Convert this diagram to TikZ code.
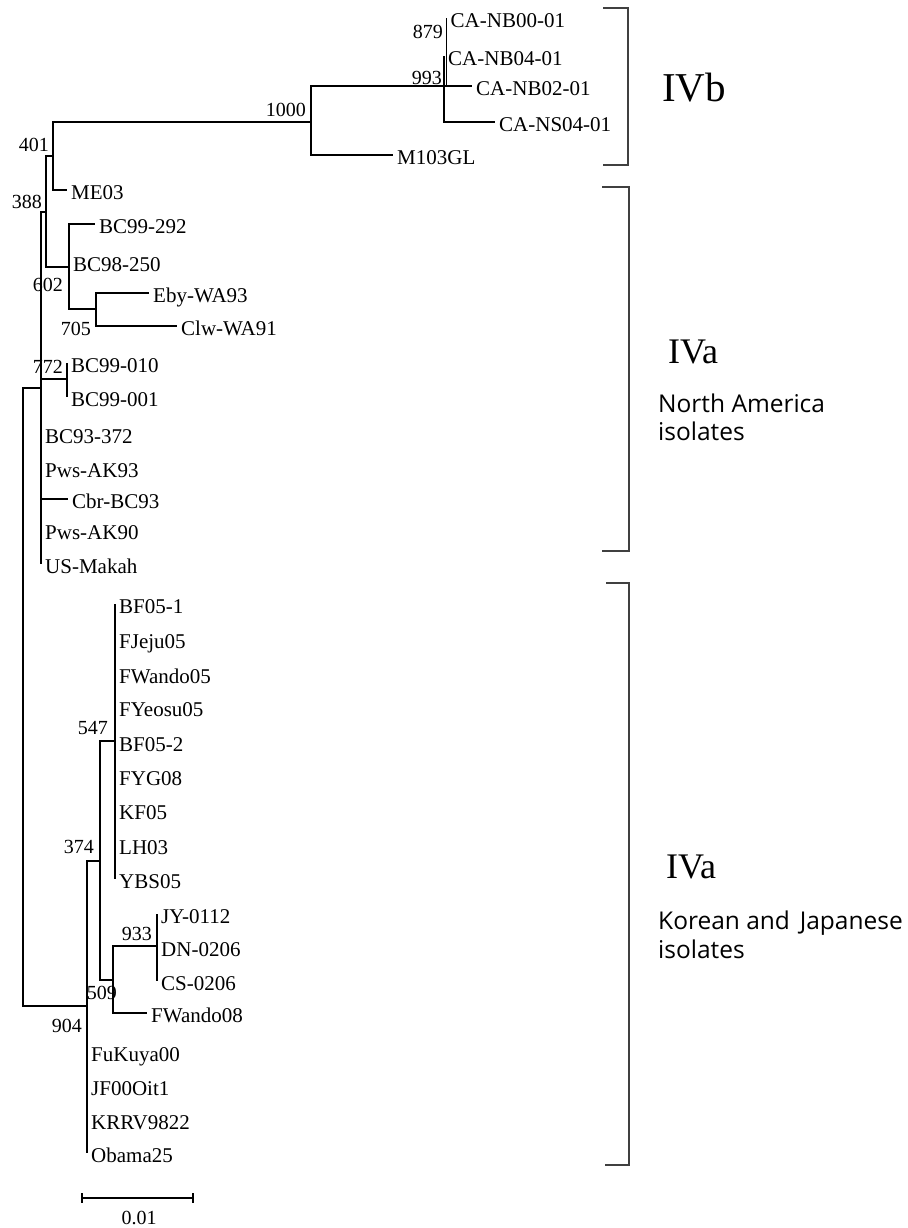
\documentclass[tikz,border=0pt]{standalone}
\usepackage{fontspec}
\setmainfont{Liberation Serif}
\newfontfamily\groupfont{Open Sans}

\begin{document}
\begin{tikzpicture}[x=1pt, y=-1pt]

\tikzstyle{leaf}=[anchor=west, inner sep=4pt, text height=19pt, text depth=0pt, font=\fontsize{21}{24}\selectfont]
\tikzstyle{boot}=[anchor=east, inner sep=0pt, text height=13pt, text depth=0pt, font=\fontsize{20}{24}\selectfont]
\tikzstyle{branch}=[line width=1.3pt]
\tikzstyle{bracket}=[line width=2pt, draw=black!75]
\tikzstyle{clade}=[anchor=base west, inner sep=0pt, font=\fontsize{36}{40}\selectfont]
\tikzstyle{region}=[anchor=base west, inner sep=0pt, font=\groupfont\fontsize{24.5}{28}\selectfont]

\useasboundingbox (0,0) rectangle (907,1228);

% internal nodes
\coordinate (root)  at (23,700);
\coordinate (na)    at (41,388);
\coordinate (asia)  at (87,1006);
\coordinate (n388)  at (46,212);
\coordinate (n401)  at (53,156);
\coordinate (n1000) at (311,122);
\coordinate (n993)  at (444,86);
\coordinate (n879)  at (446.5,86);
\coordinate (n602)  at (69,267);
\coordinate (n705)  at (96,309);
\coordinate (n772)  at (67,379);
\coordinate (n374)  at (100,861);
\coordinate (n547)  at (115,741);
\coordinate (n509)  at (113,980);
\coordinate (n933)  at (157,946);

% leaves
\node[leaf] (canb00) at (446.5,18) {CA-NB00-01};
\node[leaf] (canb04) at (444,56)   {CA-NB04-01};
\node[leaf] (canb02) at (472,86)   {CA-NB02-01};
\node[leaf] (cans04) at (495,122)  {CA-NS04-01};
\node[leaf] (m103)   at (393,155)  {M103GL};
\node[leaf] (me03)   at (67,190)   {ME03};
\node[leaf] (bc292)  at (95,224)   {BC99-292};
\node[leaf] (bc250)  at (69,262)   {BC98-250};
\node[leaf] (eby)    at (149,293)  {Eby-WA93};
\node[leaf] (clw)    at (177,326)  {Clw-WA91};
\node[leaf] (bc010)  at (67,363)   {BC99-010};
\node[leaf] (bc001)  at (67,397)   {BC99-001};
\node[leaf] (bc372)  at (41,434)   {BC93-372};
\node[leaf] (pws93)  at (41,468)   {Pws-AK93};
\node[leaf] (cbr)    at (68,499)   {Cbr-BC93};
\node[leaf] (pws90)  at (41,530)   {Pws-AK90};
\node[leaf] (makah)  at (41,564)   {US-Makah};

\node[leaf] (bf1)    at (115,604)  {BF05-1};
\node[leaf] (jeju)   at (115,639)  {FJeju05};
\node[leaf] (wando5) at (115,674)  {FWando05};
\node[leaf] (yeosu)  at (115,707)  {FYeosu05};
\node[leaf] (bf2)    at (115,742)  {BF05-2};
\node[leaf] (fyg)    at (115,776)  {FYG08};
\node[leaf] (kf)     at (115,810)  {KF05};
\node[leaf] (lh)     at (115,845)  {LH03};
\node[leaf] (ybs)    at (115,879)  {YBS05};
\node[leaf] (jy)     at (157,914)  {JY-0112};
\node[leaf] (dn)     at (157,947)  {DN-0206};
\node[leaf] (cs)     at (157,981)  {CS-0206};
\node[leaf] (wando8) at (147,1013) {FWando08};
\node[leaf] (fukuya) at (87,1052)  {FuKuya00};
\node[leaf] (jf)     at (87,1086)  {JF00Oit1};
\node[leaf] (krrv)   at (87,1120)  {KRRV9822};
\node[leaf] (obama)  at (87,1153)  {Obama25};

% bootstrap values
\node[boot] (b879)  at (443,32)   {879};
\node[boot] (b993)  at (442,78)   {993};
\node[boot] (b1000) at (306,110)  {1000};
\node[boot] (b401)  at (49,145)   {401};
\node[boot] (b388)  at (42,202)   {388};
\node[boot] (b602)  at (63,285)   {602};
\node[boot] (b705)  at (91,329)   {705};
\node[boot] (b772)  at (63,367)   {772};
\node[boot] (b547)  at (108,728)  {547};
\node[boot] (b374)  at (94,847)   {374};
\node[boot] (b933)  at (152,934)  {933};
\node[boot] (b509)  at (117,993)  {509};
\node[boot] (b904)  at (82,1026)  {904};

% branches
\draw[branch] (root) |- (na);
\draw[branch] (root) |- (asia);

\draw[branch] (na) |- (n388);
\draw[branch] (na) |- (n772);
\draw[branch] (na) |- (bc372.west);
\draw[branch] (na) |- (pws93.west);
\draw[branch] (na) |- (cbr.west);
\draw[branch] (na) |- (pws90.west);
\draw[branch] (na) |- (makah.west);

\draw[branch] (n388) |- (n401);
\draw[branch] (n388) |- (n602);
\draw[branch] (n401) |- (n1000);
\draw[branch] (n401) |- (me03.west);
\draw[branch] (n1000) |- (n993);
\draw[branch] (n1000) |- (m103.west);
\draw[branch] (n993) |- (n879);
\draw[branch] (n879) |- (canb00.west);
\draw[branch] (n993) |- (canb04.west);
\draw[branch] (n993) |- (canb02.west);
\draw[branch] (n993) |- (cans04.west);

\draw[branch] (n602) |- (bc292.west);
\draw[branch] (n602) |- (bc250.west);
\draw[branch] (n602) |- (n705);
\draw[branch] (n705) |- (eby.west);
\draw[branch] (n705) |- (clw.west);
\draw[branch] (n772) |- (bc010.west);
\draw[branch] (n772) |- (bc001.west);

\draw[branch] (asia) |- (n374);
\draw[branch] (asia) |- (fukuya.west);
\draw[branch] (asia) |- (jf.west);
\draw[branch] (asia) |- (krrv.west);
\draw[branch] (asia) |- (obama.west);
\draw[branch] (n374) |- (n547);
\draw[branch] (n374) |- (n509);
\draw[branch] (n547) |- (bf1.west);
\draw[branch] (n547) |- (jeju.west);
\draw[branch] (n547) |- (wando5.west);
\draw[branch] (n547) |- (yeosu.west);
\draw[branch] (n547) |- (bf2.west);
\draw[branch] (n547) |- (fyg.west);
\draw[branch] (n547) |- (kf.west);
\draw[branch] (n547) |- (lh.west);
\draw[branch] (n547) |- (ybs.west);
\draw[branch] (n509) |- (n933);
\draw[branch] (n509) |- (wando8.west);
\draw[branch] (n933) |- (jy.west);
\draw[branch] (n933) |- (dn.west);
\draw[branch] (n933) |- (cs.west);

% scale bar
\coordinate (bar1) at (82,1198);
\coordinate (bar2) at (193,1198);
\draw[branch] (bar1) -- (bar2);
\draw[branch] ([yshift=5pt]bar1) -- ([yshift=-5pt]bar1);
\draw[branch] ([yshift=5pt]bar2) -- ([yshift=-5pt]bar2);
\node[boot, anchor=center] (barlabel) at (139,1218) {0.01};

% clade brackets
\draw[bracket] (603,8) -- (628,8) -- (628,165) -- (603,165);
\draw[bracket] (602,187) -- (629,187) -- (629,551) -- (602,551);
\draw[bracket] (606,583) -- (629,583) -- (629,1165) -- (605,1165);

\node[clade, font=\fontsize{41}{44}\selectfont] (ivb) at (662,102) {IVb};
\node[clade] (ivana) at (668,363) {IVa};
\node[region] (naname) at (658,412) {North America};
\node[region] (naiso)  at (658,440) {isolates};
\node[clade] (ivakj) at (666,878) {IVa};
\node[region] (kjname) at (658,929) {Korean and\hspace{0.4em}Japanese};
\node[region] (kjiso)  at (658,958) {isolates};

\end{tikzpicture}
\end{document}
